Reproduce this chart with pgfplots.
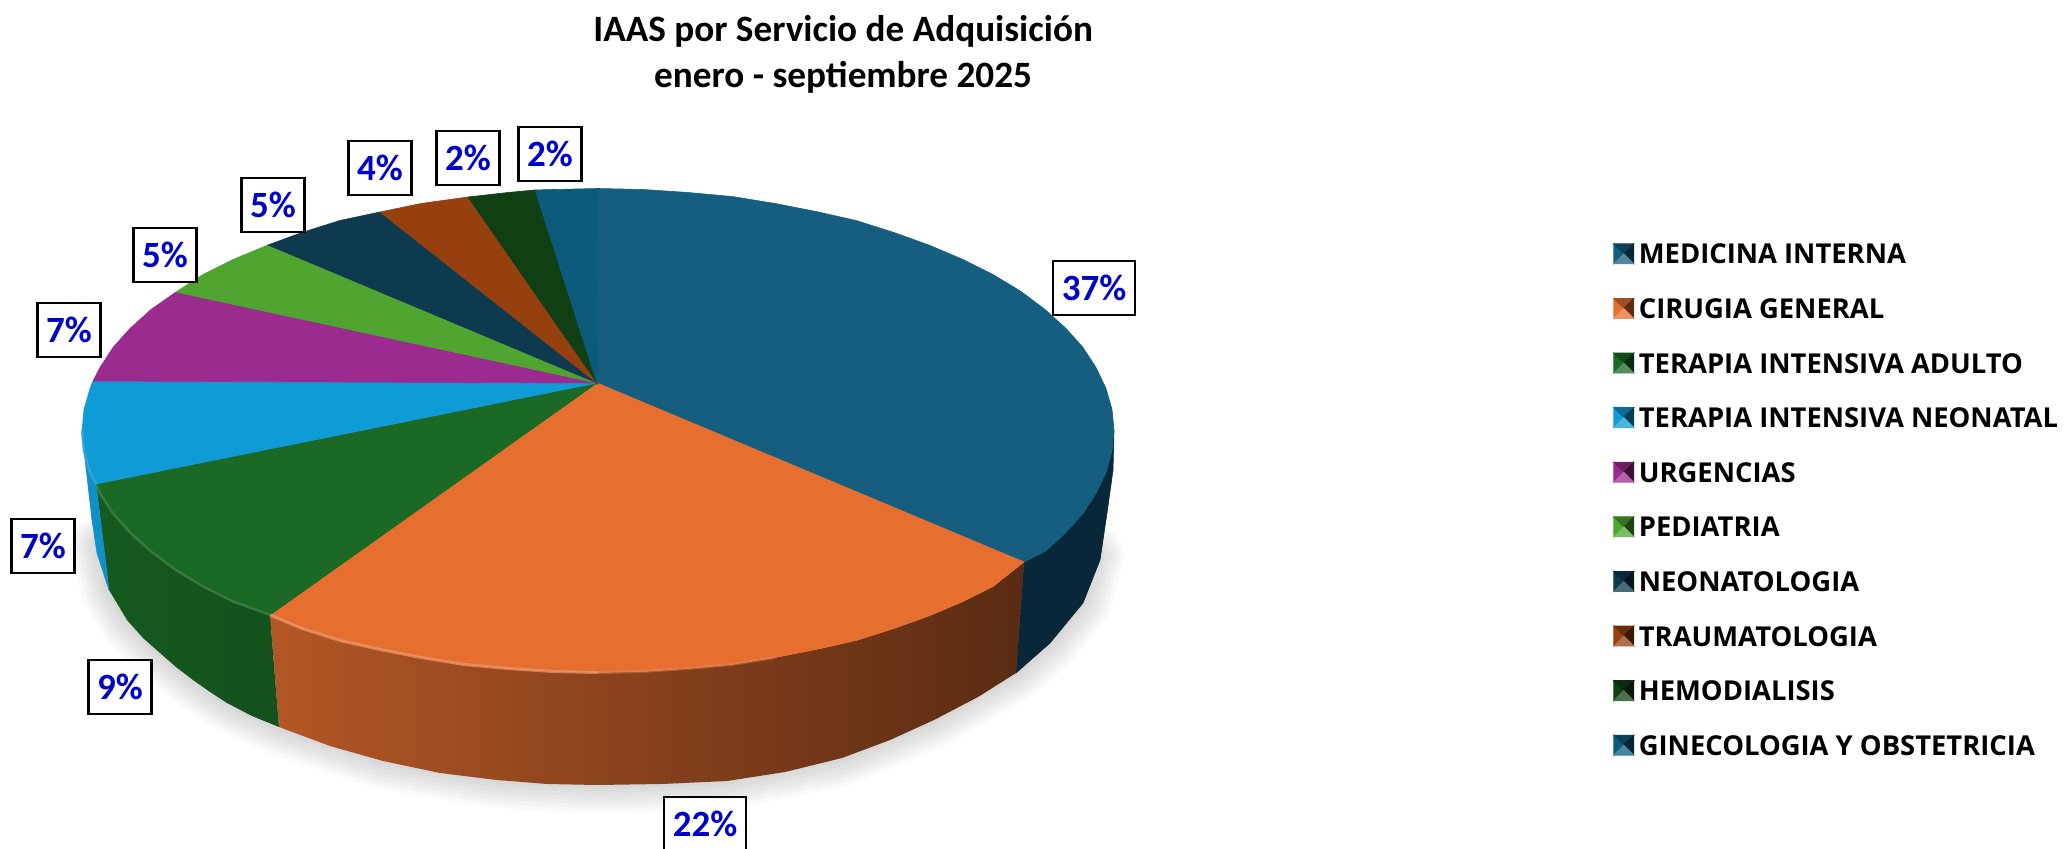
\documentclass[border=0pt]{standalone}
\usepackage{pgfplots}
\pgfplotsset{compat=1.18}
\usepackage{fontspec}
\setmainfont{Carlito}
\newfontfamily\lgd{Open Sans}

\definecolor{cMed}{HTML}{155E80}
\definecolor{cMedS}{HTML}{08283A}
\definecolor{cCir}{HTML}{E66F30}
\definecolor{cTia}{HTML}{1A6A25}
\definecolor{cTin}{HTML}{0F9BD5}
\definecolor{cTinS}{HTML}{1090C8}
\definecolor{cUrg}{HTML}{9C2B90}
\definecolor{cPed}{HTML}{4FA52F}
\definecolor{cNeo}{HTML}{0E3A50}
\definecolor{cTra}{HTML}{964010}
\definecolor{cHem}{HTML}{103F14}
\definecolor{cGin}{HTML}{0A5B7C}
\definecolor{cLab}{RGB}{0,0,205}

\pgfplotsset{
  swatch/.style={legend image code/.code={
    \path (12.3pt,0pt);
    \fill[#1] (0pt,-5pt) -- (5pt,0pt) -- (0pt,5pt) -- cycle;
    \fill[#1!70!black] (0pt,5pt) -- (5pt,0pt) -- (10pt,5pt) -- cycle;
    \fill[#1!40!black] (10pt,5pt) -- (5pt,0pt) -- (10pt,-5pt) -- cycle;
    \fill[#1!75!white] (0pt,-5pt) -- (5pt,0pt) -- (10pt,-5pt) -- cycle;
  }},
  slice/.style={draw=#1,line width=.3pt,fill=#1,forget plot},
  shadow/.style={forget plot,draw=black,opacity=.025,line width=#1,line join=round,line cap=round},
}

\begin{document}
\begin{tikzpicture}
\path[use as bounding box] (0,0) rectangle (1032pt,424.5pt);
\begin{axis}[
  at={(0,0)},anchor=south west,
  scale only axis,
  width=1032pt, height=424.5pt,
  xmin=0, xmax=2064, ymin=0, ymax=849,
  y dir=reverse,
  hide axis,
  clip=false,
  title={IAAS por Servicio de Adquisición\\enero - septiembre 2025},
  title style={at={(axis description cs:0.4085,0.922)},anchor=center,align=center,
    font=\fontsize{18.6}{23}\selectfont\bfseries},
  legend cell align=left,
  legend style={at={(axis cs:1613,243)},anchor=north west,draw=none,fill=none,
    font=\lgd\fontsize{13.7}{14}\selectfont\bfseries,row sep=16.9pt,inner sep=0pt,
    nodes={inner sep=0pt,text height=10pt,text depth=0pt}},
]
% soft shadow under the pie
\pgfplotsinvokeforeach {28pt,24pt,20pt,16pt,12pt,8pt,4pt} {
  \addplot[shadow=#1] coordinates {(98,545)(109,590)(127,620)(160,653)(193,680)(227,703)(279,727)(383,761)(497,780)(597,785)(727,781)(842,758)(934,720)(1016,673)(1050,643)(1083,603)(1096,555)};
}

% side walls
\addplot[slice=cMedS] coordinates {(1114,430.5)(1112,451.5)(1106,472.5)(1096,493.5)(1083,513.5)(1066,532.5)(1045,551.5)(1024,562)(1016,673)(1050,643)(1083,603)(1100,560)(1107,513)(1113,470)} --cycle;
\addplot[forget plot,draw=none,shade,left color=cCir!78!black,right color=cCir!39!black] coordinates {(1024,562)(993,586.5)(963,601.5)(930,615.5)(894,628.5)(856,640.5)(816,649.5)(775,657.5)(732,664.5)(688,668.5)(643,671.5)(598,672.5)(553,671.5)(508,668.5)(464,664.5)(421,657.5)(380,649.5)(340,640.5)(302,628.5)(270,615)(279,727)(330,746)(383,761)(440,773)(497,780)(547,784)(597,785)(662,784)(727,781)(785,772)(842,758)(890,740)(934,720)(978,697)(1016,673)} --cycle;
\addplot[forget plot,draw=none,shade,left color=cTia!85!black,right color=cTia!76!black] coordinates {(270,615)(233,601.5)(203,586.5)(175,569.5)(151,551.5)(130,532.5)(113,513.5)(100,493.5)(96,484)(109,590)(127,620)(143,638)(160,653)(176,667)(193,680)(210,692)(227,703)(252,716)(279,727)} --cycle;
\addplot[slice=cTinS] coordinates {(96,484)(90,472.5)(84,451.5)(82,430.5)(84,450)(92,520)(97,553)(109,590)} --cycle;

% top faces
\addplot[slice=cMed] coordinates {(597,383)(598,188.5)(643,189.5)(688,192.5)(732,196.5)(775,203.5)(816,211.5)(856,220.5)(894,232.5)(930,245.5)(963,259.5)(993,274.5)(1021,291.5)(1045,309.5)(1066,328.5)(1083,347.5)(1096,367.5)(1106,388.5)(1112,409.5)(1114,430.5)(1112,451.5)(1106,472.5)(1096,493.5)(1083,513.5)(1066,532.5)(1045,551.5)(1024,562)} --cycle;
\addplot[slice=cCir] coordinates {(597,383)(1024,562)(993,586.5)(963,601.5)(930,615.5)(894,628.5)(856,640.5)(816,649.5)(775,657.5)(732,664.5)(688,668.5)(643,671.5)(598,672.5)(553,671.5)(508,668.5)(464,664.5)(421,657.5)(380,649.5)(340,640.5)(302,628.5)(270,615)} --cycle;
\addplot[slice=cTia] coordinates {(597,383)(270,615)(233,601.5)(203,586.5)(175,569.5)(151,551.5)(130,532.5)(113,513.5)(100,493.5)(96,484)} --cycle;
\addplot[slice=cTin] coordinates {(597,383)(96,484)(90,472.5)(84,451.5)(82,430.5)(84,409.5)(90,388.5)(93,381)} --cycle;
\addplot[slice=cUrg] coordinates {(597,383)(93,381)(100,367.5)(113,347.5)(130,328.5)(151,309.5)(176,292)} --cycle;
\addplot[slice=cPed] coordinates {(597,383)(176,292)(203,274.5)(233,259.5)(268,245)} --cycle;
\addplot[slice=cNeo] coordinates {(597,383)(268,245)(302,232.5)(340,220.5)(380,212)} --cycle;
\addplot[slice=cTra] coordinates {(597,383)(380,212)(421,203.5)(468,197)} --cycle;
\addplot[slice=cHem] coordinates {(597,383)(468,197)(508,192.5)(535,190)} --cycle;
\addplot[slice=cGin] coordinates {(597,383)(535,190)(553,189.5)(598,188.5)} --cycle;

% bevel along the front rim, fading out to the right
\addplot[forget plot,draw=cCir!70!white,opacity=.7,line width=1.5pt] coordinates {(598,672.5)(553,671.5)(508,668.5)(464,664.5)(421,657.5)(380,649.5)(340,640.5)(302,628.5)(270,615)};
\addplot[forget plot,draw=cCir!70!white,opacity=.3,line width=1.5pt] coordinates {(775,657.5)(732,664.5)(688,668.5)(643,671.5)(598,672.5)};
\addplot[forget plot,draw=cTia!75!white,opacity=.5,line width=1.2pt] coordinates {(270,615)(233,601.5)(203,586.5)(175,569.5)(151,551.5)(130,532.5)(113,513.5)(100,493.5)(96,484)};
\addplot[forget plot,draw=cTin!85!white,opacity=.8,line width=1.2pt] coordinates {(96,484)(90,472.5)(84,451.5)(82,430.5)};

% percentage labels
\addplot[forget plot,only marks,mark=none,point meta=explicit symbolic,
  nodes near coords,
  nodes near coords style={anchor=center,draw=black,fill=white,line width=1.2pt,
    text=cLab,font=\fontsize{18.5}{18.5}\selectfont\bfseries,
    inner xsep=4.4pt,inner ysep=0pt,minimum height=27pt}]
  coordinates {
  (1094,288)[37\%]
  (705,824)[22\%]
  (120,687)[9\%]
  (43,546)[7\%]
  (69,330)[7\%]
  (165,255)[5\%]
  (273,205)[5\%]
  (380,168)[4\%]
  (468,158)[2\%]
  (550,154)[2\%]
};

\addlegendimage{swatch=cMed}\addlegendentry{MEDICINA INTERNA}
\addlegendimage{swatch=cCir}\addlegendentry{CIRUGIA GENERAL}
\addlegendimage{swatch=cTia}\addlegendentry{TERAPIA INTENSIVA ADULTO}
\addlegendimage{swatch=cTin}\addlegendentry{TERAPIA INTENSIVA NEONATAL}
\addlegendimage{swatch=cUrg}\addlegendentry{URGENCIAS}
\addlegendimage{swatch=cPed}\addlegendentry{PEDIATRIA}
\addlegendimage{swatch=cNeo}\addlegendentry{NEONATOLOGIA}
\addlegendimage{swatch=cTra}\addlegendentry{TRAUMATOLOGIA}
\addlegendimage{swatch=cHem}\addlegendentry{HEMODIALISIS}
\addlegendimage{swatch=cGin}\addlegendentry{GINECOLOGIA Y OBSTETRICIA}
\end{axis}
\end{tikzpicture}
\end{document}
